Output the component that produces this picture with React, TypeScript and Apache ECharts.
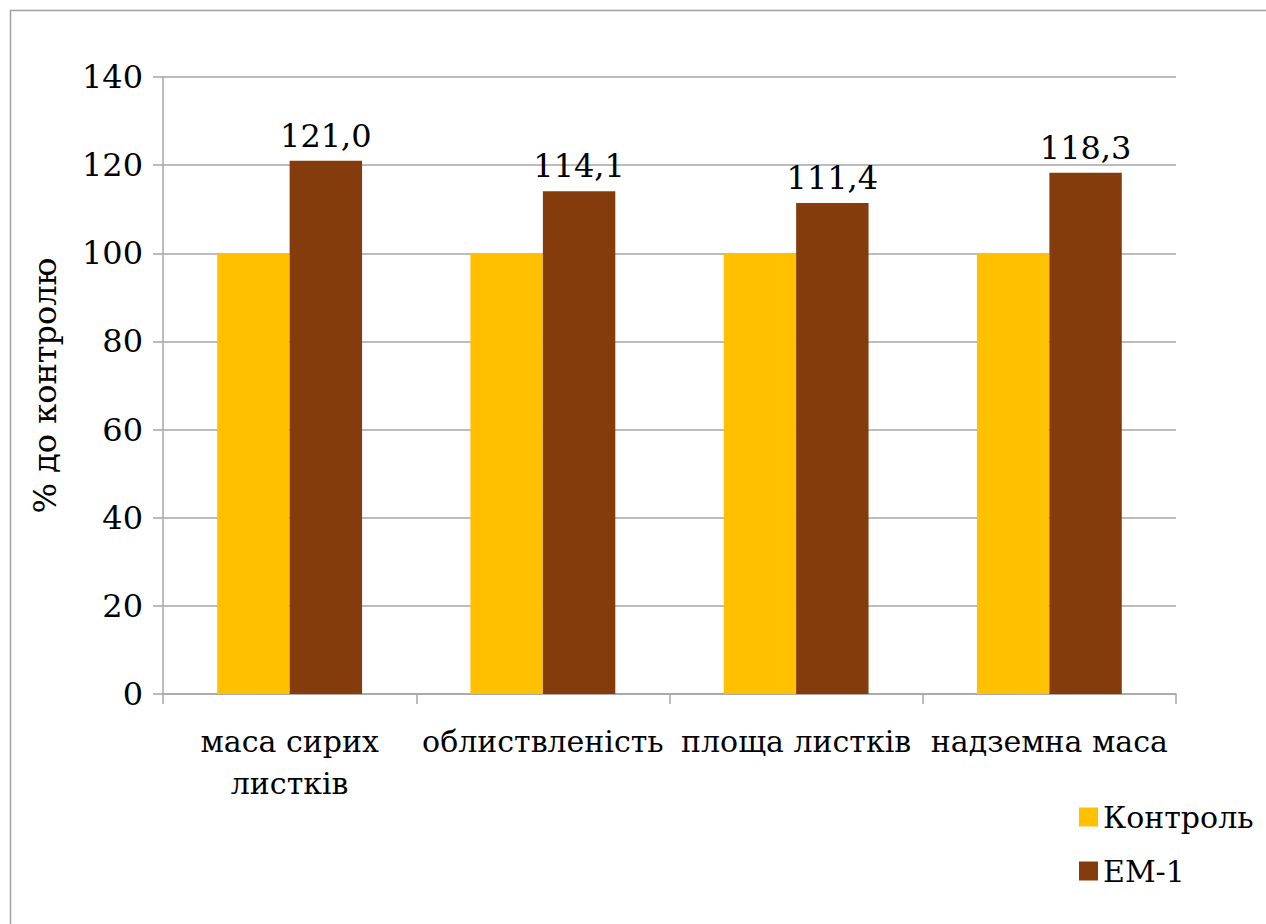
import React, { useEffect, useRef } from "react";
import * as echarts from "echarts";

const categories = ["маса сирих\nлистків", "облиствленість", "площа листків", "надземна маса"];
const controlValues = [100, 100, 100, 100];
const em1Values = [121.0, 114.1, 111.4, 118.3];
const seriesNames = ["Контроль", "ЕМ-1"];
const yTicks = { min: 0, max: 140, interval: 20 };

const FONT = "DejaVu Serif";

export default function App() {
  const ref = useRef<HTMLDivElement>(null);
  useEffect(() => {
    const chart = echarts.init(ref.current!, null, { renderer: "svg" });
    chart.setOption({
      animation: false,
      backgroundColor: "#ffffff",
      textStyle: { fontFamily: FONT, color: "#000" },
      graphic: [
        {
          type: "rect",
          shape: { x: 10.5, y: 10.5, width: 1300, height: 1000 },
          style: { fill: "none", stroke: "#A0A0A0", lineWidth: 1.5 },
          silent: true,
        },
      ],
      grid: { left: 163, right: 90, top: 77, bottom: 230, containLabel: false },
      legend: {
        orient: "vertical",
        left: 1074,
        top: 797,
        itemWidth: 19,
        itemHeight: 19,
        itemGap: 24,
        icon: "rect",
        textStyle: { fontFamily: FONT, fontSize: 30, color: "#000" },
        data: seriesNames,
      },
      xAxis: {
        type: "category",
        data: categories,
        axisLine: { lineStyle: { color: "#A6A6A6", width: 1.5 } },
        axisTick: { show: true, length: 10, lineStyle: { color: "#A6A6A6", width: 1.5 } },
        axisLabel: {
          fontFamily: FONT,
          fontSize: 30,
          color: "#000",
          margin: 26,
          lineHeight: 42,
          interval: 0,
        },
      },
      yAxis: {
        type: "value",
        min: yTicks.min,
        max: yTicks.max,
        interval: yTicks.interval,
        name: "% до контролю",
        nameLocation: "middle",
        nameGap: 102,
        nameRotate: 90,
        nameTextStyle: { fontFamily: FONT, fontSize: 32, color: "#000" },
        axisLine: { show: true, lineStyle: { color: "#A6A6A6", width: 1.5 } },
        axisTick: { show: true, length: 10, lineStyle: { color: "#A6A6A6", width: 1.5 } },
        splitLine: { show: true, lineStyle: { color: "#A6A6A6", width: 1.5 } },
        axisLabel: { fontFamily: FONT, fontSize: 32, color: "#000", margin: 20 },
      },
      series: [
        {
          name: seriesNames[0],
          type: "bar",
          data: controlValues,
          itemStyle: { color: "#FFC000" },
          barGap: "0%",
          barCategoryGap: "42.8%",
        },
        {
          name: seriesNames[1],
          type: "bar",
          data: em1Values,
          itemStyle: { color: "#843C0C" },
          barGap: "0%",
          barCategoryGap: "42.8%",
          label: {
            show: true,
            position: "top",
            distance: 9,
            fontFamily: FONT,
            fontSize: 32,
            color: "#000",
            formatter: (p: any) => p.value.toFixed(1).replace(".", ","),
          },
        },
      ],
    });
    return () => chart.dispose();
  }, []);
  return (
    <div
      ref={ref}
      style={{ position: "fixed", left: 0, top: 0, width: 1266, height: 924 }}
    />
  );
}
